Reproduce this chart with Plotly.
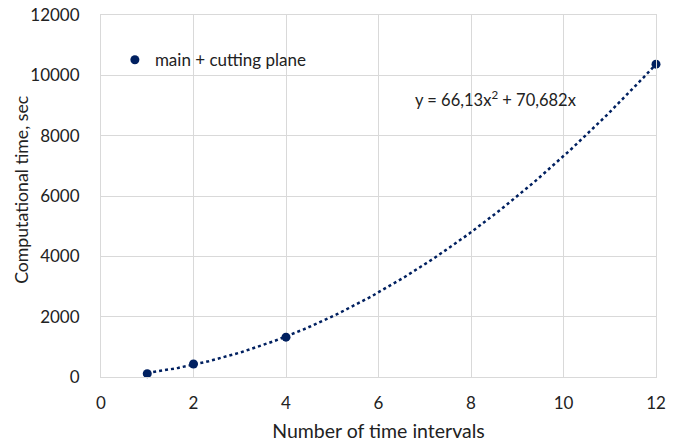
import numpy as np
import plotly.graph_objects as go

intervals = [1, 2, 4, 12]
comp_time = [110, 430, 1320, 10370]
series_name = "main + cutting plane"
trend_a, trend_b = 66.13, 70.682
equation_text = "y = 66,13x<sup>2</sup> + 70,682x"
x_title = "Number of time intervals"
y_title = "Computational time, sec"

color = "#002060"
font = "Lato, 'Open Sans', sans-serif"
grid = "#d9d9d9"

xt = np.linspace(min(intervals), max(intervals), 200)
yt = trend_a * xt**2 + trend_b * xt

fig = go.Figure()
fig.add_trace(go.Scatter(x=xt, y=yt, mode="lines",
                         line=dict(color=color, width=2.5, dash="dot"),
                         showlegend=False, hoverinfo="skip"))
fig.add_trace(go.Scatter(x=intervals, y=comp_time, mode="markers",
                         marker=dict(color=color, size=9),
                         name=series_name, cliponaxis=False))

fig.add_annotation(x=8.55, y=9200, text=equation_text, showarrow=False,
                   font=dict(family=font, size=16.5, color="#222222"))
fig.add_annotation(xref="paper", yref="paper", x=-0.1423, y=0.517,
                   xanchor="center", yanchor="middle", textangle=-90,
                   text=y_title, showarrow=False,
                   font=dict(family=font, size=17.7, color="#222222"))

fig.update_layout(
    width=680, height=442,
    margin=dict(l=101, r=24, t=15, b=65),
    paper_bgcolor="white", plot_bgcolor="white",
    font=dict(family=font, size=16, color="#222222"),
    legend=dict(x=0.025, y=0.875, xanchor="left", yanchor="middle",
                bgcolor="rgba(0,0,0,0)", font=dict(size=17),
                itemwidth=30),
    showlegend=True,
)
fig.update_xaxes(range=[0, 12], dtick=2, showgrid=True, gridcolor=grid,
                 zeroline=False, showline=True, linecolor=grid, mirror=True,
                 ticks="outside", ticklen=11, tickcolor="rgba(0,0,0,0)",
                 tickfont=dict(size=17), automargin=False,
                 title=dict(text=x_title, font=dict(size=19.5), standoff=13))
fig.update_yaxes(range=[0, 12000], dtick=2000, tickformat="d", showgrid=True, gridcolor=grid,
                 zeroline=False, showline=True, linecolor=grid, mirror=True,
                 ticks="outside", ticklen=17, tickcolor="rgba(0,0,0,0)",
                 tickfont=dict(size=17), automargin=False)

fig.write_html("out.html")
